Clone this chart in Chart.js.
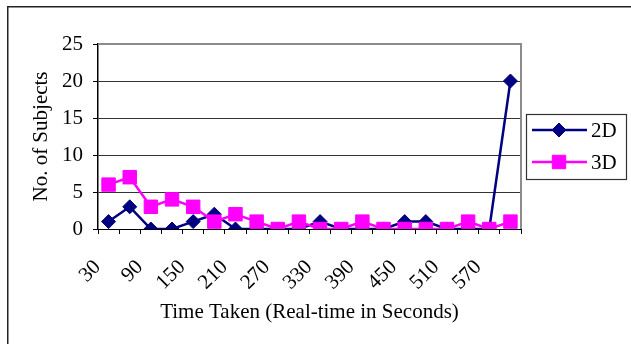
<!DOCTYPE html>
<html>
<head>
<meta charset="utf-8">
<script src="https://cdn.jsdelivr.net/npm/chart.js@4/dist/chart.umd.min.js"></script>
<style>
  html, body { margin: 0; padding: 0; background: #fff; }
  canvas { display: block; }
</style>
</head>
<body>
<canvas id="chart" width="631" height="344"></canvas>
<script>
// Time buckets in seconds
const categories = [30, 60, 90, 120, 150, 180, 210, 240, 270, 300,
                    330, 360, 390, 420, 450, 480, 510, 540, 570, 600];
// Number of subjects per bucket
const subjects2D = [1, 3, 0, 0, 1, 2, 0, 0, 0, 0, 1, 0, 0, 0, 1, 1, 0, 0, 0, 20];
const subjects3D = [6, 7, 3, 4, 3, 1, 2, 1, 0, 1, 0, 0, 1, 0, 0, 0, 0, 1, 0, 1];
const seriesNames = ['2D', '3D'];
const yTicks = [0, 5, 10, 15, 20, 25];

const FONT = '"Liberation Serif", "Times New Roman", serif';
const NAVY = '#000080';
const MAGENTA = '#FF00FF';

// Page frame, plot-area border and the boxed legend
const decorations = {
  id: 'decorations',
  beforeDraw(chart) {
    const ctx = chart.ctx;
    ctx.save();
    ctx.fillStyle = '#fff';
    ctx.fillRect(0, 0, chart.width, chart.height);
    ctx.strokeStyle = '#222';
    ctx.lineWidth = 1.5;
    ctx.strokeRect(7.75, 6.75, chart.width + 20, chart.height + 20);
    ctx.restore();
  },
  beforeDatasetsDraw(chart) {
    const ctx = chart.ctx;
    const a = chart.chartArea;
    ctx.save();
    ctx.strokeStyle = '#8c8c8c';
    ctx.lineWidth = 2;
    ctx.beginPath();
    ctx.moveTo(a.left, a.top);
    ctx.lineTo(a.right, a.top);
    ctx.lineTo(a.right, a.bottom);
    ctx.stroke();
    ctx.restore();
  },
  afterDraw(chart) {
    const ctx = chart.ctx;
    const box = { x: 526, y: 114, w: 100, h: 65 };
    ctx.save();
    ctx.strokeStyle = '#333';
    ctx.lineWidth = 1.2;
    ctx.strokeRect(box.x + 0.5, box.y + 0.5, box.w, box.h);
    const rowY = [130, 162];
    chart.data.datasets.forEach((ds, i) => {
      const y = rowY[i];
      ctx.strokeStyle = ds.borderColor;
      ctx.lineWidth = ds.borderWidth;
      ctx.beginPath();
      ctx.moveTo(532, y);
      ctx.lineTo(587, y);
      ctx.stroke();
      ctx.fillStyle = ds.pointBackgroundColor;
      ctx.strokeStyle = ds.pointBorderColor;
      ctx.lineWidth = 1;
      Chart.helpers.drawPoint(ctx, { pointStyle: ds.pointStyle, radius: ds.pointRadius, rotation: 0, borderWidth: 1 }, 559, y);
      ctx.fillStyle = '#000';
      ctx.font = '21px ' + FONT;
      ctx.textBaseline = 'middle';
      ctx.textAlign = 'left';
      ctx.fillText(ds.label, 591, y + 1);
    });
    ctx.restore();
  }
};

new Chart(document.getElementById('chart'), {
  type: 'line',
  data: {
    labels: categories.map(String),
    datasets: [
      {
        label: seriesNames[0],
        data: subjects2D,
        borderColor: NAVY,
        backgroundColor: NAVY,
        pointBackgroundColor: NAVY,
        pointBorderColor: NAVY,
        borderWidth: 2.5,
        pointStyle: 'rectRot',
        pointRadius: 7,
        pointBorderWidth: 1,
        tension: 0,
        order: 2
      },
      {
        label: seriesNames[1],
        data: subjects3D,
        borderColor: MAGENTA,
        backgroundColor: MAGENTA,
        pointBackgroundColor: MAGENTA,
        pointBorderColor: MAGENTA,
        borderWidth: 2.5,
        pointStyle: 'rect',
        pointRadius: 9.5,
        pointBorderWidth: 1,
        tension: 0,
        order: 1
      }
    ]
  },
  options: {
    responsive: false,
    animation: false,
    layout: { padding: { top: 44, right: 110, bottom: 0, left: 0 } },
    plugins: {
      legend: { display: false },
      tooltip: { enabled: false }
    },
    scales: {
      x: {
        type: 'category',
        offset: true,
        afterFit(scale) { scale.height = 115; },
        grid: {
          offset: true,
          drawOnChartArea: false,
          drawTicks: true,
          tickLength: 5,
          tickColor: '#000',
          tickWidth: 1
        },
        border: { color: '#000', width: 1 },
        ticks: {
          autoSkip: false,
          minRotation: 45,
          maxRotation: 45,
          padding: 21,
          labelOffset: -11,
          color: '#000',
          font: { family: FONT, size: 21 },
          callback(value, index) {
            return index % 2 === 0 ? this.getLabelForValue(value) : '';
          }
        },
        title: {
          display: true,
          text: 'Time Taken (Real-time in Seconds)',
          color: '#000',
          font: { family: FONT, size: 21 },
          padding: { top: 0, bottom: 19 }
        }
      },
      y: {
        min: 0,
        max: 25,
        afterFit(scale) { scale.width = 98; },
        afterBuildTicks(scale) { scale.ticks = yTicks.map(v => ({ value: v })); },
        grid: {
          color: '#333',
          lineWidth: 1,
          tickLength: 5,
          tickColor: '#000'
        },
        border: { color: '#000', width: 1.5 },
        ticks: {
          padding: 10,
          color: '#000',
          font: { family: FONT, size: 21 }
        },
        title: {
          display: true,
          text: 'No. of Subjects',
          color: '#000',
          font: { family: FONT, size: 21 },
          padding: { top: 29, bottom: 0 }
        }
      }
    }
  },
  plugins: [decorations]
});
</script>
</body>
</html>
